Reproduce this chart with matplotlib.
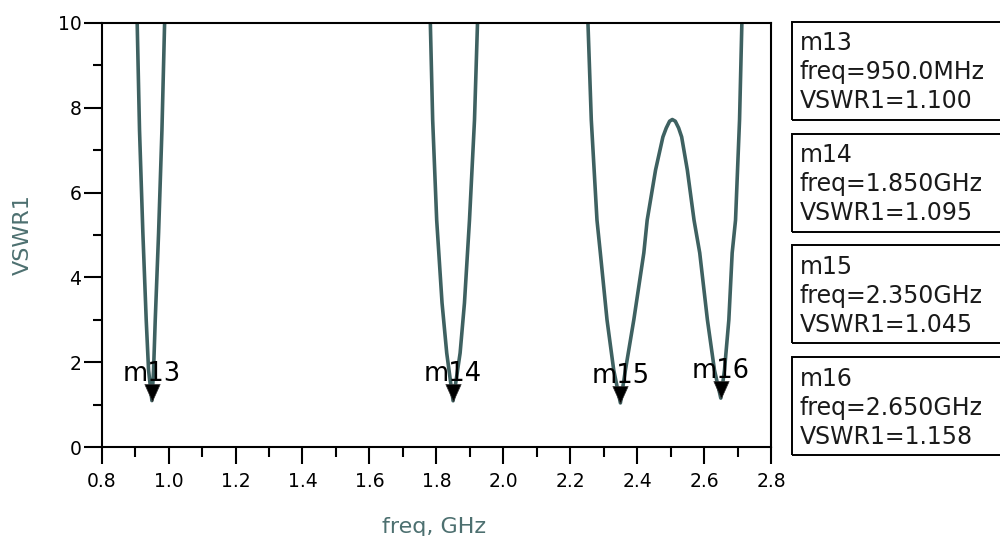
import numpy as np
import matplotlib
matplotlib.use("Agg")
import matplotlib.pyplot as plt
from matplotlib.path import Path
from matplotlib.patches import Rectangle
from matplotlib.ticker import MultipleLocator, FixedLocator

plt.rcParams['font.family'] = ['DejaVu Sans']
plt.rcParams['xtick.labelsize'] = 13.5
plt.rcParams['ytick.labelsize'] = 13.5

# Simulated VSWR trace (frequency in GHz)
freq_ghz = [
    0.904, 0.906, 0.913, 0.923, 0.933, 0.940, 0.950, 0.955, 0.960, 0.970, 0.980, 0.988, 0.990,
    1.780, 1.782, 1.789, 1.801, 1.817, 1.831, 1.850, 1.871, 1.884, 1.899, 1.914, 1.923, 1.925,
    2.252, 2.253, 2.263, 2.280, 2.290, 2.310, 2.330, 2.350, 2.365, 2.390, 2.420, 2.430,
    2.455, 2.477, 2.487, 2.497, 2.505, 2.514, 2.524, 2.533, 2.550, 2.570, 2.587, 2.610,
    2.631, 2.650, 2.661, 2.674, 2.684, 2.694, 2.706, 2.713, 2.715,
]
vswr1 = [
    10.8, 10.0, 7.47, 5.05, 3.00, 1.82, 1.100, 1.82, 3.00, 5.05, 7.47, 10.0, 10.8,
    10.8, 10.0, 7.71, 5.35, 3.40, 2.22, 1.095, 2.22, 3.40, 5.35, 7.71, 10.0, 10.8,
    10.8, 10.0, 7.71, 5.35, 4.58, 3.00, 1.82, 1.045, 1.82, 3.00, 4.58, 5.35,
    6.53, 7.31, 7.52, 7.68, 7.72, 7.68, 7.52, 7.31, 6.53, 5.35, 4.58, 3.00,
    1.82, 1.158, 1.82, 3.00, 4.58, 5.35, 7.71, 10.0, 10.8,
]

# Markers
marker_names = ["m13", "m14", "m15", "m16"]
marker_freq = [0.950, 1.850, 2.350, 2.650]
marker_vswr = [1.100, 1.095, 1.045, 1.158]

x_ticks = [0.8, 1.0, 1.2, 1.4, 1.6, 1.8, 2.0, 2.2, 2.4, 2.6, 2.8]
y_ticks = [0, 2, 4, 6, 8, 10]

W, H = 1000, 536
fig = plt.figure(figsize=(W / 100, H / 100), dpi=100)
ax = fig.add_axes([101.7 / W, 1 - 447.3 / H, 669.3 / W, 424.6 / H])

trace_color = "#3e6161"
label_color = "#4d7070"

ax.plot(freq_ghz, vswr1, color=trace_color, lw=2.6, solid_joinstyle="round", zorder=2)

# Down-pointing triangle with its tip on the data point
tri = Path([(0, 0), (-0.45, 1), (0.45, 1), (0, 0)],
           [Path.MOVETO, Path.LINETO, Path.LINETO, Path.CLOSEPOLY])
ax.plot(marker_freq, marker_vswr, linestyle="none", marker=tri, markersize=24.5,
        markerfacecolor="black", markeredgecolor="#333333", markeredgewidth=0.5,
        zorder=4, clip_on=False)
for name, f, v in zip(marker_names, marker_freq, marker_vswr):
    ax.annotate(name, (f, v), xytext=(-29, 20), textcoords="offset pixels",
                ha="left", va="baseline", fontsize=18.5, color="black", zorder=5)

ax.set_xlim(0.8, 2.8)
ax.set_ylim(0, 10)
ax.xaxis.set_major_locator(FixedLocator(x_ticks))
ax.set_xticklabels([f"{t:.1f}" for t in x_ticks])
ax.xaxis.set_minor_locator(MultipleLocator(0.1))
ax.yaxis.set_major_locator(FixedLocator(y_ticks))
ax.set_yticklabels([str(t) for t in y_ticks])
ax.yaxis.set_minor_locator(MultipleLocator(1))

for s in ax.spines.values():
    s.set_linewidth(1.5)
    s.set_color("black")

ax.tick_params(axis="x", which="major", direction="out", length=12, width=1.5, pad=6,
               labelsize=13.5)
ax.tick_params(axis="x", which="minor", direction="out", length=7, width=1.5)
ax.tick_params(axis="y", which="major", direction="out", length=13, width=1.5, pad=1.5,
               labelsize=13.5)
ax.tick_params(axis="y", which="minor", direction="out", length=6.5, width=1.5)

ax.set_xlabel("freq, GHz", fontsize=16, color=label_color, va="baseline")
ax.xaxis.set_label_coords(0.497, (447.3 - 533) / 424.6)
ax.set_ylabel("VSWR1", fontsize=16, color=label_color, va="center", ha="center")
ax.yaxis.set_label_coords((23 - 101.7) / 669.3, 0.5)

# Marker readout boxes
box_left = 792
box_h = 98
box_step = 111.7
for i, (name, f, v) in enumerate(zip(marker_names, marker_freq, marker_vswr)):
    top = 22 + i * box_step
    fig.patches.append(Rectangle((box_left / W, 1 - (top + box_h) / H), 0.3, box_h / H,
                                 transform=fig.transFigure, fill=False,
                                 edgecolor="black", linewidth=1.4))
    ftxt = f"{f * 1000:.1f}MHz" if f < 1 else f"{f:.3f}GHz"
    lines = [name, f"freq={ftxt}", f"VSWR1={v:.3f}"]
    for j, line in enumerate(lines):
        fig.text(800 / W, 1 - (top + 28.5 + j * 29) / H, line, fontsize=17,
                 color="#1a1a1a", ha="left", va="baseline")

fig.savefig("out.png", dpi=100)
